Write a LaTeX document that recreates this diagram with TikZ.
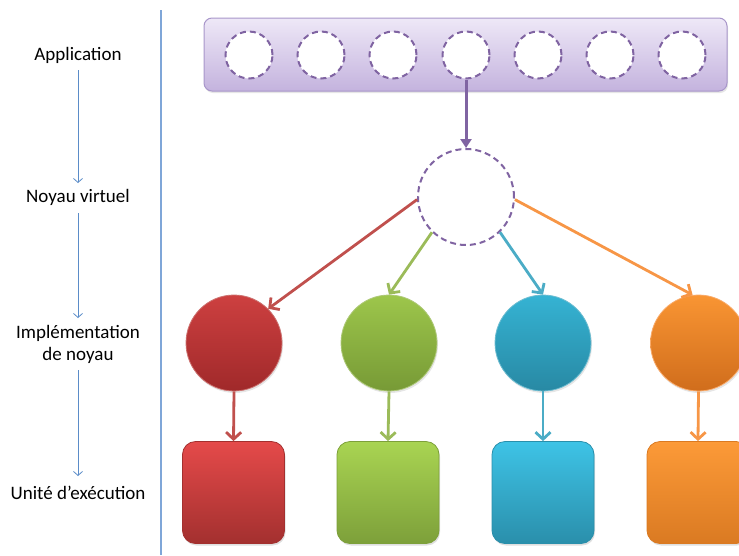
\documentclass[tikz,border=0pt]{standalone}
\usepackage{fontspec}
\setmainfont{Carlito}
\usetikzlibrary{arrows.meta}
\usetikzlibrary{shadows}

\definecolor{violet}{HTML}{8064A2}
\definecolor{barA}{HTML}{EEE8F7}
\definecolor{barB}{HTML}{C4B3DE}
\definecolor{barL}{HTML}{A896CA}
\definecolor{axe}{HTML}{5B8CC8}
\definecolor{sep}{HTML}{7FA6D8}
\definecolor{redA}{HTML}{CD4040}
\definecolor{redB}{HTML}{A0292A}
\definecolor{redL}{HTML}{C0504D}
\definecolor{redC}{HTML}{E54A4A}
\definecolor{redD}{HTML}{A3302F}
\definecolor{greenA}{HTML}{9DC64B}
\definecolor{greenB}{HTML}{779A36}
\definecolor{greenL}{HTML}{9BBB59}
\definecolor{greenC}{HTML}{A9D452}
\definecolor{greenD}{HTML}{7DA03A}
\definecolor{blueA}{HTML}{35B3D3}
\definecolor{blueB}{HTML}{2889A4}
\definecolor{blueL}{HTML}{4BACC6}
\definecolor{blueC}{HTML}{3EC3E6}
\definecolor{blueD}{HTML}{2A8FAB}
\definecolor{orangeA}{HTML}{F99533}
\definecolor{orangeB}{HTML}{D06D1C}
\definecolor{orangeL}{HTML}{F79646}
\definecolor{orangeC}{HTML}{FC9A38}
\definecolor{orangeD}{HTML}{DA7A22}

\begin{document}
\begin{tikzpicture} [x=1pt, y=-1pt, font=\fontsize{19}{22}\selectfont,
        slot/.style={circle, draw=violet, fill=white, line width=2pt, dash pattern=on 6pt off 4pt, inner sep=0, minimum size=#1},
        impl/.style={circle, inner sep=0, minimum size=96pt, top color=#1A, bottom color=#1B, draw=#1L!80!white, line width=0.8pt, drop shadow={opacity=0.2, shadow xshift=1pt, shadow yshift=-2pt}},
        unit/.style={rectangle, rounded corners=13pt, inner sep=0, minimum size=102pt, top color=#1C, bottom color=#1D, draw=#1D, line width=0.8pt, drop shadow={opacity=0.25, shadow xshift=1pt, shadow yshift=-2pt}},
        level/.style={align=center}]
            \useasboundingbox (0,0) rectangle (739,555);
            \clip (0,0) rectangle (739,555);

            \node [level] (la) at (78, 55)    {Application};
            \node [level] (lv) at (78, 197)   {Noyau virtuel};
            \node [level] (li) at (78, 344)   {Implémentation\\de noyau};
            \node [level] (lu) at (78, 493)   {Unité d’exécution};

            \draw [sep, line width=1.2pt] (161, 10) -- (161, 555);

            \node [rectangle, rounded corners=8pt, minimum width=523pt, minimum height=73pt, top color=barA, bottom color=barB, draw=barL, line width=1pt,
                   drop shadow={opacity=0.2, shadow xshift=1pt, shadow yshift=-2pt}] (app) at (465.5, 54.5) {};
            \foreach \i/\x in {1/249, 2/321, 3/393, 4/466, 5/538, 6/610, 7/682}
                \node [slot=47pt] (t\i) at (\x, 55) {};

            \node [slot=96pt] (v) at (466, 197) {};

            \node [impl=red]    (r) at (234, 343)   {};
            \node [impl=green]  (g) at (389, 343)   {};
            \node [impl=blue]   (b) at (543, 343)   {};
            \node [impl=orange] (o) at (698.5, 343) {};

            \node [unit=red]    (ur) at (233.5, 492.5) {};
            \node [unit=green]  (ug) at (388, 492.5)   {};
            \node [unit=blue]   (ub) at (543, 492.5)   {};
            \node [unit=orange] (uo) at (698, 492.5)   {};

            \begin{scope}[->, >={Straight Barb[length=4pt, width=9pt]}, axe, line width=0.8pt]
                \draw (78, 70) -- (78, 183);
                \draw (78, 213) -- (78, 318);
                \draw (78, 370) -- (78, 476);
            \end{scope}

            \draw [-{Triangle[length=9pt, width=11pt]}, violet, line width=3pt] (t4.south) -- (v.north);

            \begin{scope}[->, >={Straight Barb[length=7pt, width=15pt]}, line width=2.8pt]
                \draw [redL]    (v.183) -> (r.45);
                \draw [greenL]  (v.226) -> (g.north);
                \draw [blueL]   (v.314) -> (b.north);
                \draw [orangeL] (v.357) -> (o.97);
                \draw [redL]    (r.south) -> (ur.north);
                \draw [greenL]  (g.south) -> (ug.north);
                \draw [blueL]   (b.south) -> (ub.north);
                \draw [orangeL] (o.south) -> (uo.north);
            \end{scope}
        \end{tikzpicture}
\end{document}
